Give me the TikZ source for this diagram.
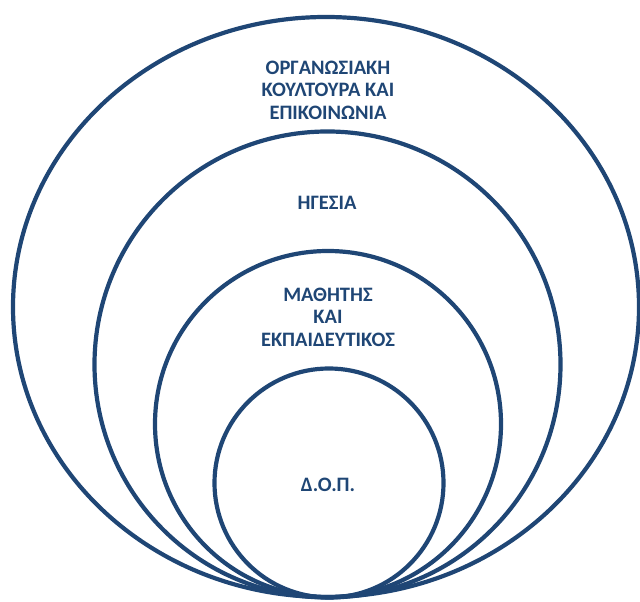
\documentclass[tikz,border=0pt]{standalone}
\usepackage{fontspec}
\setmainfont{Carlito}
\usetikzlibrary{shapes.geometric}
\definecolor{ringblue}{RGB}{31,70,117}

\begin{document}
\begin{tikzpicture}[x=1pt, y=1pt,
    ring/.style={draw=ringblue, line width=4.2pt, inner sep=0pt},
    lbl/.style={text=ringblue, font=\bfseries\fontsize{20.5}{22.5}\selectfont, align=center}]
  \useasboundingbox (0,0) rectangle (640,602);
  % rings, all touching at the bottom
  \node (culture) [ring, ellipse, minimum width=626, minimum height=580] at (326,295) {};
  \node (lead)    [ring, circle, minimum size=466] at (327.5,237.5) {};
  \node (people)  [ring, circle, minimum size=346] at (328,178) {};
  \node (dop)     [ring, circle, minimum size=229] at (329,119) {};
  % labels
  \node (culturetxt) [lbl] at (328,512) {ΟΡΓΑΝΩΣΙΑΚΗ\\ΚΟΥΛΤΟΥΡΑ ΚΑΙ\\ΕΠΙΚΟΙΝΩΝΙΑ};
  \node (leadtxt)    [lbl] at (327,399) {ΗΓΕΣΙΑ};
  \node (peopletxt)  [lbl] at (328,285) {ΜΑΘΗΤΗΣ\\ΚΑΙ\\ΕΚΠΑΙΔΕΥΤΙΚΟΣ};
  \node (doptxt)     [lbl] at (328,117) {Δ.Ο.Π.};
\end{tikzpicture}
\end{document}
